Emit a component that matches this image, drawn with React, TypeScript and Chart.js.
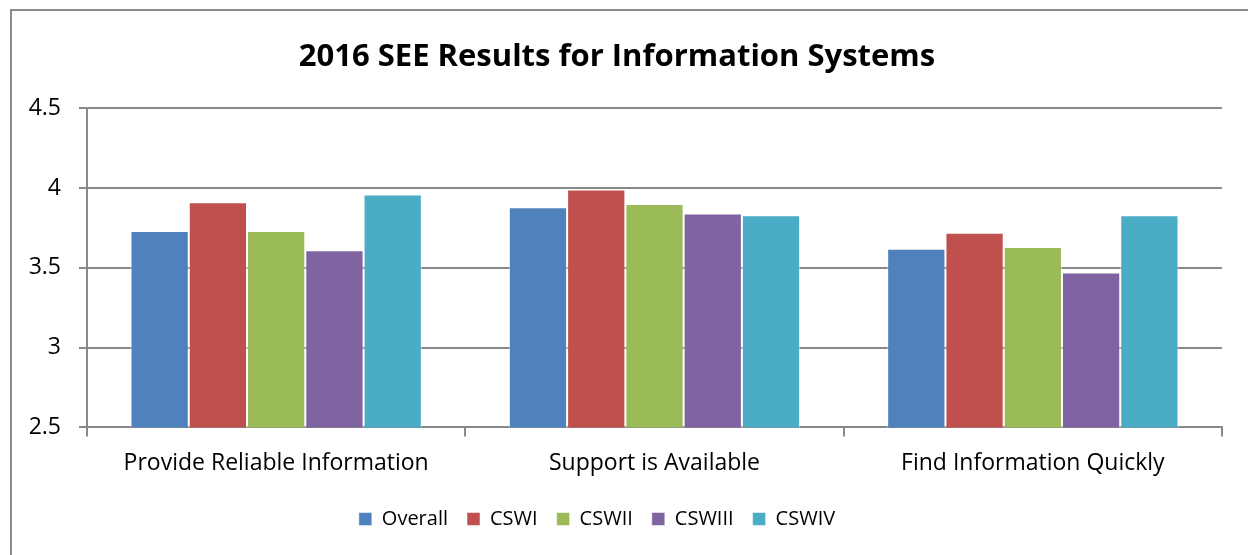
import React, { useEffect, useRef } from "react";
import { Chart, registerables } from "chart.js";

Chart.register(...registerables);

const categories = ["Provide Reliable Information", "Support is Available", "Find Information Quickly"];
const seriesNames = ["Overall", "CSWI", "CSWII", "CSWIII", "CSWIV"];
const overall = [3.73, 3.88, 3.62];
const cswi = [3.91, 3.99, 3.72];
const cswii = [3.73, 3.9, 3.63];
const cswiii = [3.61, 3.84, 3.47];
const cswiv = [3.96, 3.83, 3.83];
const colors = ["#4F81BD", "#C0504D", "#9BBB59", "#8064A2", "#4BACC6"];
const yMin = 2.5;
const yMax = 4.5;
const yStep = 0.5;

const FONT = "'Open Sans'";

const framePlugin = {
  id: "frame",
  afterLayout(chart: any) {
    if (chart.legend) {
      chart.legend.left -= 20;
      chart.legend.right -= 20;
    }
  },
  beforeDraw(chart: any) {
    const ctx = chart.ctx;
    ctx.save();
    ctx.fillStyle = "#ffffff";
    ctx.fillRect(0, 0, chart.width, chart.height);
    ctx.strokeStyle = "#8c8c8c";
    ctx.lineWidth = 2;
    ctx.beginPath();
    ctx.moveTo(11, chart.height + 5);
    ctx.lineTo(11, 10);
    ctx.lineTo(chart.width + 5, 10);
    ctx.stroke();
    ctx.restore();
  },
};

export default function App() {
  const ref = useRef<HTMLCanvasElement | null>(null);
  useEffect(() => {
    document.body.style.margin = "0";
    const all = [overall, cswi, cswii, cswiii, cswiv];
    const chart = new Chart(ref.current as HTMLCanvasElement, {
      type: "bar",
      data: {
        labels: categories,
        datasets: seriesNames.map((n, i) => ({
          label: n,
          data: all[i],
          backgroundColor: colors[i],
          borderColor: "rgba(255,255,255,0.5)",
          borderWidth: 1,
          categoryPercentage: 0.77,
          barPercentage: 1,
        })),
      },
      options: {
        responsive: false,
        animation: false,
        layout: { padding: { left: 12, right: 26, top: 0, bottom: 16 } },
        plugins: {
          title: {
            display: true,
            text: "2016 SEE Results for Information Systems",
            color: "#000",
            font: { family: FONT, size: 31, weight: "bold" },
            padding: { top: 39, bottom: 32 },
          },
          legend: {
            position: "bottom",
            labels: {
              color: "#000",
              font: { family: FONT, size: 20 },
              boxWidth: 13,
              boxHeight: 13,
              padding: 19,
            },
          },
          tooltip: { enabled: false },
        },
        scales: {
          x: {
            grid: { drawOnChartArea: false, drawTicks: true, tickLength: 9, color: "#898989", lineWidth: 2 },
            border: { color: "#898989", width: 2 },
            ticks: { color: "#000", font: { family: FONT, size: 23 }, padding: 13 },
          },
          y: {
            min: yMin,
            max: yMax,
            afterFit(scale: any) {
              scale.width = 75;
            },
            ticks: {
              stepSize: yStep,
              color: "#000",
              font: { family: FONT, size: 23 },
              padding: 18,
              callback: (v: any) => String(Number(v)),
            },
            grid: { color: "#898989", lineWidth: 2, tickLength: 8 },
            border: { color: "#898989", width: 2 },
          },
        },
      },
      plugins: [framePlugin],
    });
    return () => chart.destroy();
  }, []);
  return (
    <div style={{ width: 1248, height: 555 }}>
      <canvas ref={ref} width={1248} height={555} style={{ display: "block" }} />
    </div>
  );
}
